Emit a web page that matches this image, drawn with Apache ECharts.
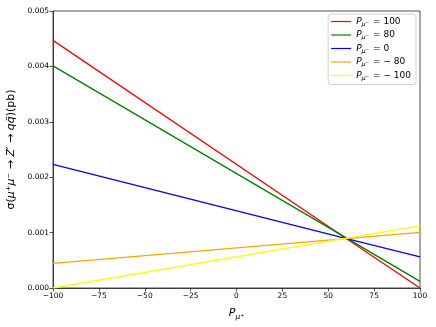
<!DOCTYPE html>
<html>
<head>
<meta charset="utf-8">
<script src="https://cdn.jsdelivr.net/npm/echarts@6/dist/echarts.min.js"></script>
<style>
  html, body { margin: 0; padding: 0; background: #fff; }
  #chart { width: 436px; height: 327px; }
</style>
</head>
<body>
<div id="chart"></div>
<script>
  // P_mu+ sample points (lines are straight, crossing near 60)
  var xValues = [-100, 60, 100]
  var red100 = [0.00447, 0.00089, 0.0]
  var green80 = [0.00401, 0.00090, 0.00012]
  var blue0 = [0.00223, 0.00089, 0.00056]
  var orange80 = [0.000446, 0.00089, 0.001005]
  var yellow100 = [0.0, 0.00090, 0.00112]
  var legendValues = ['100', '80', '0', '\u2212 80', '\u2212 100']
  var lineColors = ['#ff0000', '#008000', '#0000ff', '#ffa500', '#ffff00']

  var seriesValues = [red100, green80, blue0, orange80, yellow100]
  var font = 'DejaVu Sans'

  function pairs (ys) {
    return xValues.map(function (x, i) { return [x, ys[i]] })
  }
  function minus (v) {
    return String(v).replace('-', '\u2212')
  }

  var series = seriesValues.map(function (ys, i) {
    return {
      name: 'P' + i,
      type: 'line',
      data: pairs(ys),
      showSymbol: false,
      symbol: 'none',
      lineStyle: { color: lineColors[i], width: 1.3 },
      itemStyle: { color: lineColors[i] },
      animation: false
    }
  })

  var chart = echarts.init(document.getElementById('chart'))
  chart.setOption({
    animation: false,
    grid: {
      left: 53, right: 16, top: 11, bottom: 39,
      outerBoundsMode: 'none',
      containLabel: false,
      show: true, borderColor: '#222', borderWidth: 0.8
    },
    legend: {
      right: 20, top: 14,
      orient: 'vertical',
      itemGap: 3,
      itemWidth: 20, itemHeight: 11,
      icon: 'path://M0,5 L20,5 L20,6.2 L0,6.2 Z',
      backgroundColor: '#fff',
      borderColor: '#d0d0d0', borderWidth: 1, borderRadius: 3,
      padding: [3, 5, 3, 3],
      formatter: function (name) {
        var idx = Number(name.slice(1))
        return '{p|P}{s|\u03bc\u207b}{v| = ' + legendValues[idx] + '}'
      },
      textStyle: {
        fontFamily: font, fontSize: 9, color: '#000',
        rich: {
          p: { fontFamily: font, fontSize: 9, fontStyle: 'italic', color: '#000', height: 11 },
          s: { fontFamily: font, fontSize: 6.5, fontStyle: 'italic', color: '#000', height: 11, padding: [5, 1, 0, 0] },
          v: { fontFamily: font, fontSize: 9, color: '#000', height: 11 }
        }
      }
    },
    xAxis: {
      type: 'value',
      min: -100, max: 100, interval: 25,
      name: '{p|P}{s|\u03bc\u207a}',
      nameLocation: 'middle',
      nameGap: 18,
      nameTextStyle: {
        rich: {
          p: { fontFamily: font, fontSize: 11, fontStyle: 'italic', color: '#000' },
          s: { fontFamily: font, fontSize: 7.5, fontStyle: 'italic', color: '#000', padding: [7, 0, 0, 0] }
        }
      },
      axisLine: { show: true, onZero: false, lineStyle: { color: '#222', width: 0.8 } },
      axisTick: { show: true, length: 3.5, lineStyle: { color: '#222', width: 0.8 } },
      axisLabel: { fontFamily: font, fontSize: 7.5, color: '#000', margin: 4, formatter: minus },
      splitLine: { show: false }
    },
    yAxis: {
      type: 'value',
      min: 0, max: 0.005, interval: 0.001,
      name: '{t|\u03c3(}{i|\u03bc\u207a\u03bc\u207b}{t| \u2192 }{i|Z\u2032}{t| \u2192 }{i|qq\u0304}{t|)(pb)}',
      nameLocation: 'middle',
      nameGap: 32,
      nameTextStyle: {
        rich: {
          t: { fontFamily: font, fontSize: 11, color: '#000' },
          i: { fontFamily: font, fontSize: 11, fontStyle: 'italic', color: '#000' }
        }
      },
      axisLine: { show: true, onZero: false, lineStyle: { color: '#222', width: 0.8 } },
      axisTick: { show: true, length: 3.5, lineStyle: { color: '#222', width: 0.8 } },
      axisLabel: {
        fontFamily: font, fontSize: 7.5, color: '#000', margin: 4,
        formatter: function (v) { return v.toFixed(3) }
      },
      splitLine: { show: false }
    },
    series: series
  })
</script>
</body>
</html>
